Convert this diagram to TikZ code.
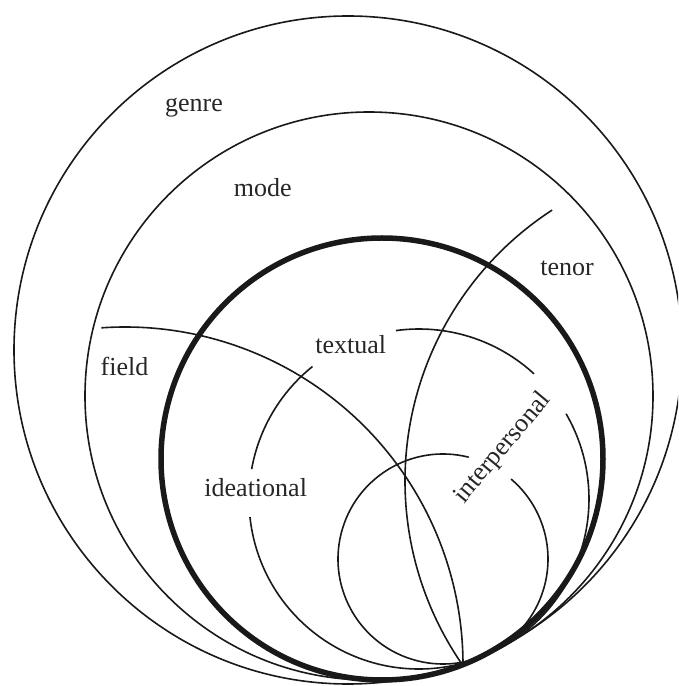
\documentclass[tikz,border=0pt]{standalone}
\usepackage{fontspec}
\setmainfont{Liberation Serif}
\begin{document}
\begin{tikzpicture}[x=1pt,y=1pt,
  thinline/.style={line width=1.6pt, black!90},
  thickline/.style={line width=5.5pt, black!90},
  lbl/.style={inner sep=0pt, font=\fontsize{26}{31}\selectfont, text=black!85}]
\useasboundingbox (0,0) rectangle (678,686);
\clip (0,0) rectangle (678,686);

% centres of the nested circles
\coordinate (cgenre) at (348,336);
\coordinate (cmode)  at (369,290);
\coordinate (creg)   at (382,227);
\coordinate (ctext)  at (419,187);
\coordinate (cinter) at (443,127);
\coordinate (cfield) at (125,21);
\coordinate (ctenor) at (728,205);

% context layers
\draw[thinline] (cgenre) circle[radius=334pt];
\draw[thinline] (cmode) circle[radius=284pt];
\draw[thickline] (creg) circle[radius=221pt];

% field and tenor arcs
\draw[thinline] ([shift={(94:338pt)}]cfield) arc[start angle=94, end angle=0, radius=338pt];
\draw[thinline] ([shift={(123:323pt)}]ctenor) arc[start angle=123, end angle=214.5, radius=323pt];

% textual circle, broken by its labels
\draw[thinline] ([shift={(128.8:170pt)}]ctext) arc[start angle=128.8, end angle=169.9, radius=170pt];
\draw[thinline] ([shift={(186.1:170pt)}]ctext) arc[start angle=186.1, end angle=390.1, radius=170pt];
\draw[thinline] ([shift={(47.4:170pt)}]ctext) arc[start angle=47.4, end angle=97.8, radius=170pt];

% interpersonal circle
\draw[thinline] ([shift={(75.8:105pt)}]cinter) arc[start angle=75.8, end angle=409.6, radius=105pt];

% labels
\node[lbl, anchor=base] (genre) at (194,574.5) {genre};
\node[lbl, anchor=base] (mode) at (262.7,489.3) {mode};
\node[lbl, anchor=base] (tenor) at (567,410) {tenor};
\node[lbl, anchor=base] (field) at (124.5,310) {field};
\node[lbl, anchor=base] (textual) at (350.8,332.4) {textual};
\node[lbl, anchor=base] (ideational) at (255.7,189) {ideational};
\node[lbl, rotate=50] (interpersonal) at (503,238) {interpersonal};
\end{tikzpicture}
\end{document}
